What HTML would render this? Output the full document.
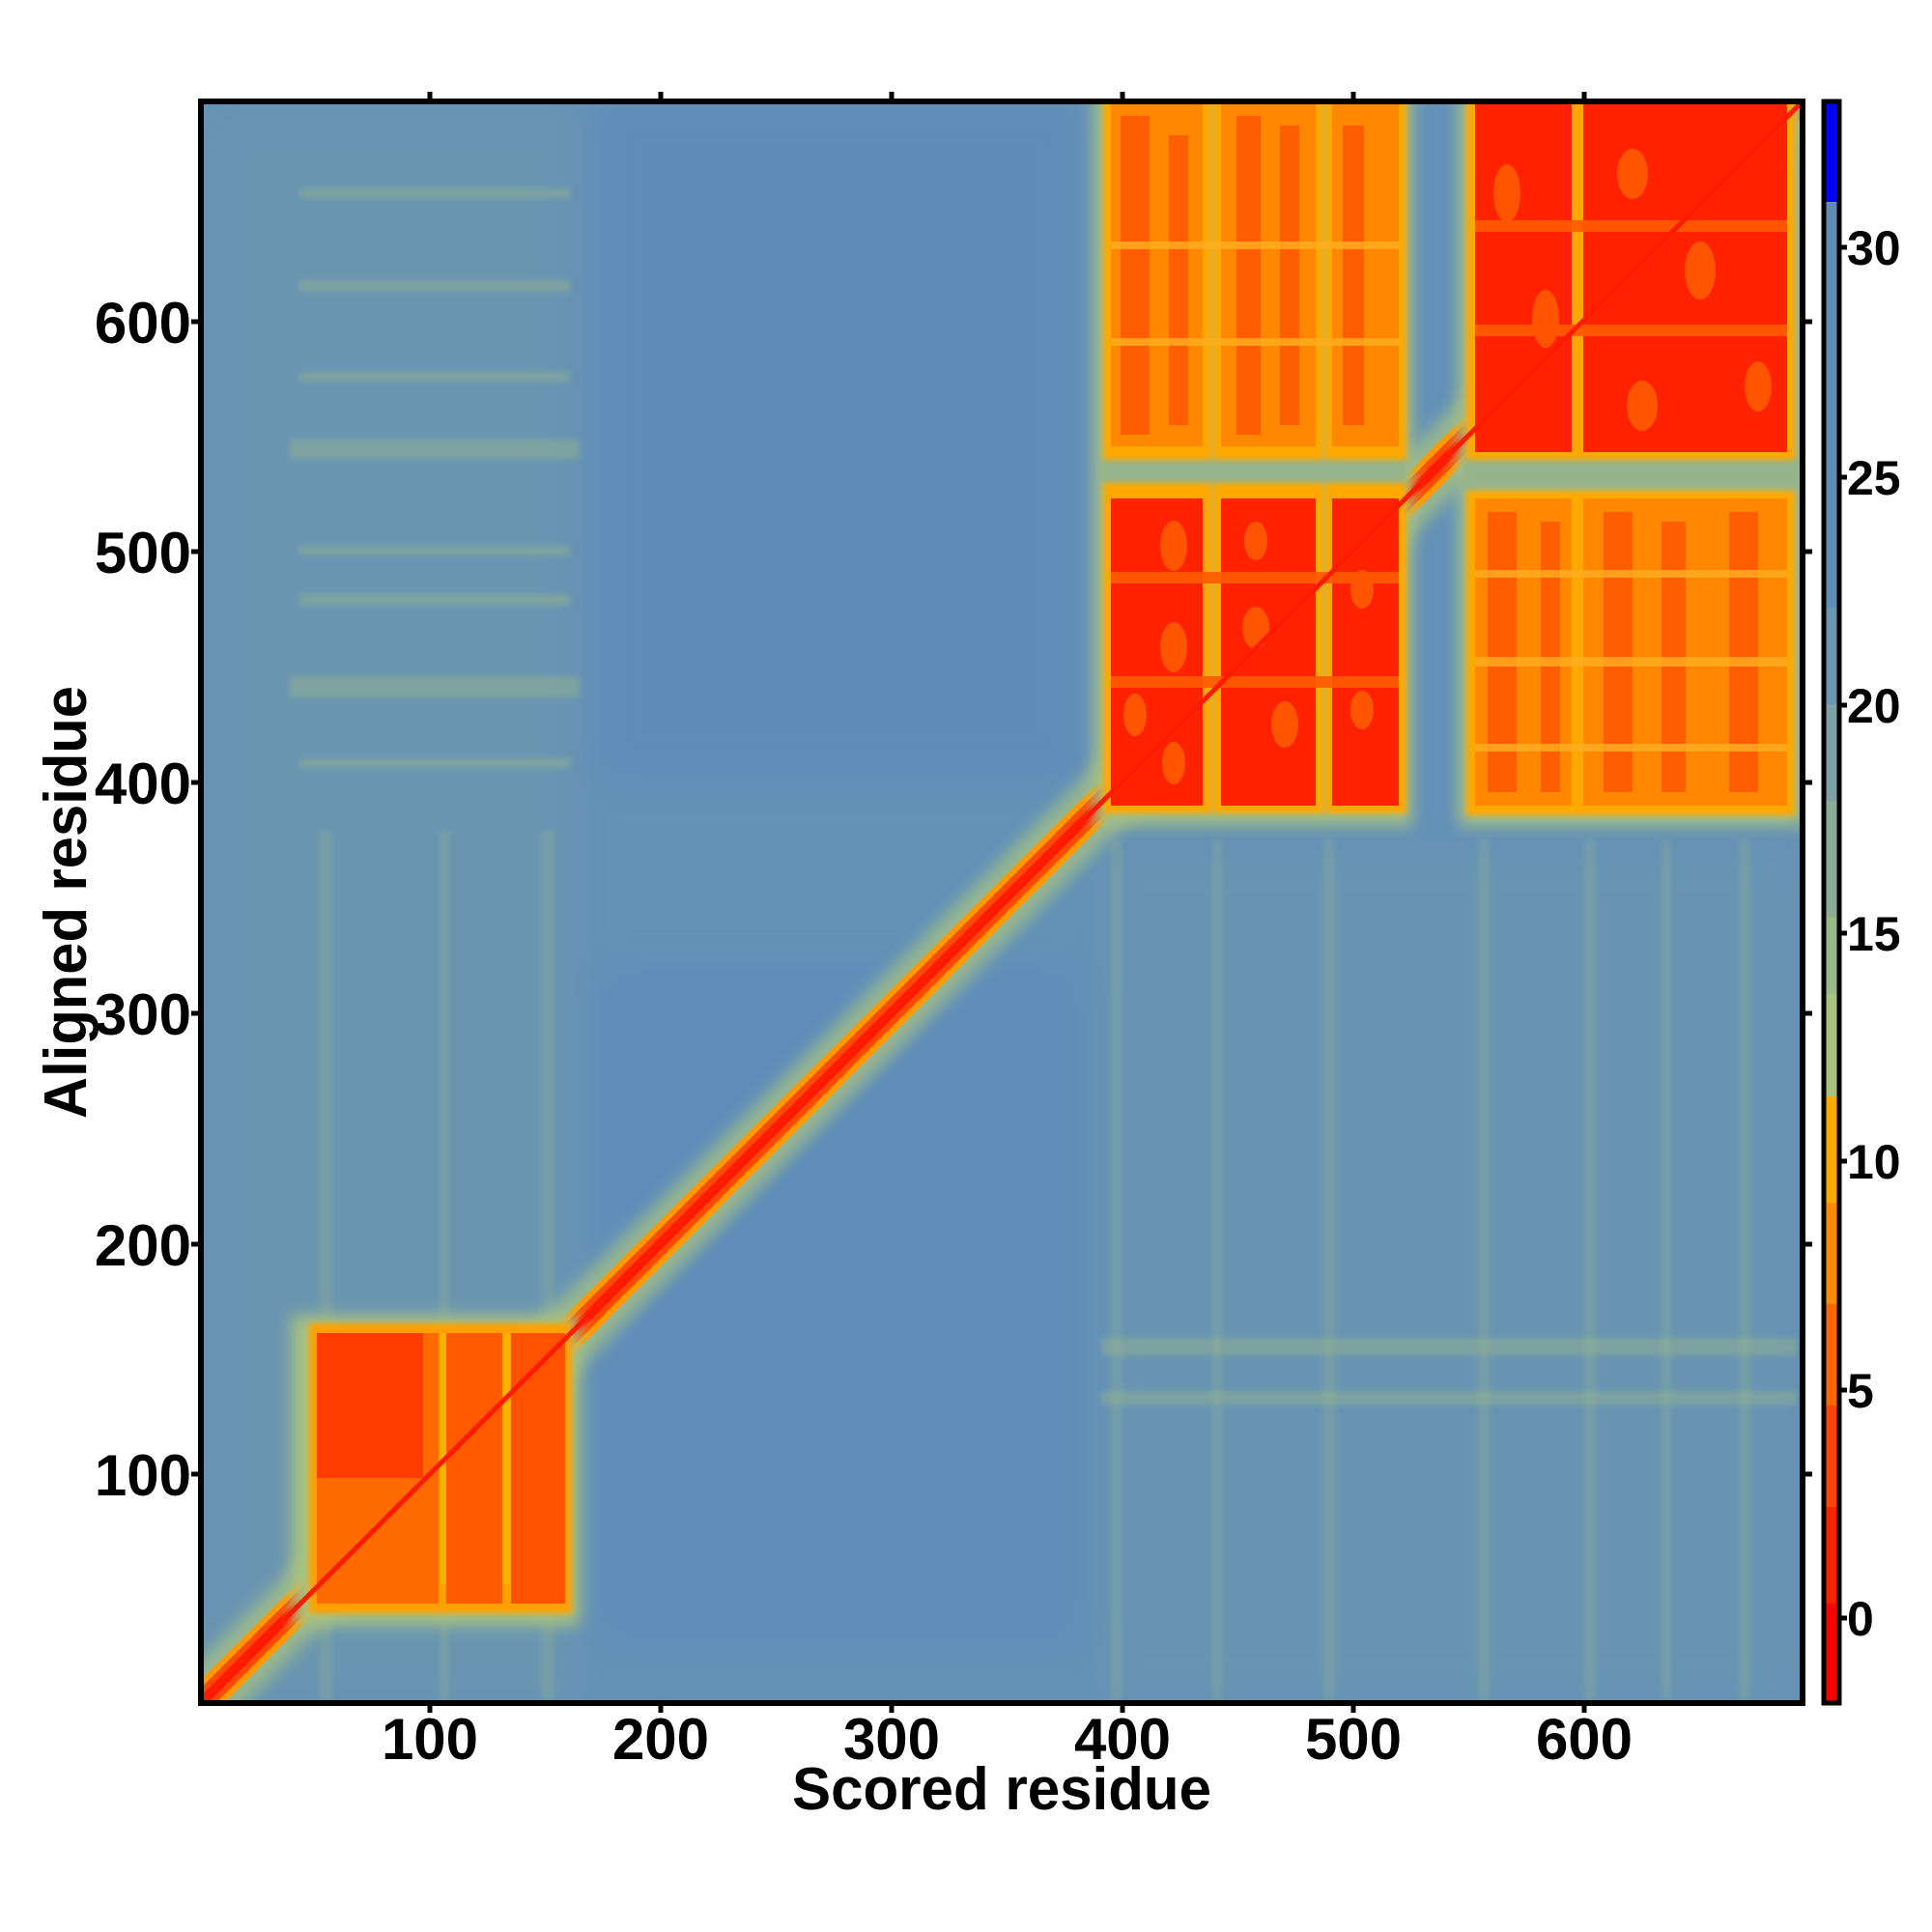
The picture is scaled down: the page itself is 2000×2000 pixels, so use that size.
<!DOCTYPE html>
<html><head><meta charset="utf-8"><style>html,body{margin:0;padding:0;background:#fff}svg{display:block}</style></head>
<body>
<svg width="2000" height="2000" viewBox="0 0 2000 2000" xmlns="http://www.w3.org/2000/svg" font-family="Liberation Sans, Arial, sans-serif" font-weight="bold">
<defs>
<clipPath id="pc"><rect x="208" y="105" width="1658" height="1658"/></clipPath>
<filter id="b8" filterUnits="userSpaceOnUse" x="0" y="0" width="2000" height="2000"><feGaussianBlur stdDeviation="8"/></filter>
<filter id="b4" filterUnits="userSpaceOnUse" x="0" y="0" width="2000" height="2000"><feGaussianBlur stdDeviation="3"/></filter>
<filter id="b16" filterUnits="userSpaceOnUse" x="0" y="0" width="2000" height="2000"><feGaussianBlur stdDeviation="18"/></filter>
</defs>
<g clip-path="url(#pc)">
<rect x="200" y="100" width="1680" height="1680" fill="#6391b7"/>
<rect x="208" y="105" width="390" height="1660" fill="#8aa79a" opacity="0.18" filter="url(#b16)"/>
<rect x="620" y="105" width="500" height="700" fill="#5a86c0" opacity="0.35" filter="url(#b16)"/>
<rect x="620" y="1000" width="500" height="700" fill="#5a86c0" opacity="0.3" filter="url(#b16)"/>
<rect x="1140" y="880" width="720" height="880" fill="#8aa79a" opacity="0.14" filter="url(#b16)"/>
<g fill="#9db98a" opacity="0.4" filter="url(#b4)">
<rect x="310" y="195" width="280" height="10"/>
<rect x="310" y="290" width="280" height="12"/>
<rect x="310" y="385" width="280" height="10"/>
<rect x="300" y="455" width="300" height="20"/>
<rect x="310" y="565" width="280" height="10"/>
<rect x="310" y="615" width="280" height="12"/>
<rect x="300" y="700" width="300" height="22"/>
<rect x="310" y="785" width="280" height="10"/>
<rect x="1140" y="1385" width="720" height="18"/>
<rect x="1140" y="1440" width="720" height="14"/>
</g>
<g fill="#9db98a" opacity="0.25" filter="url(#b4)">
<rect x="330" y="860" width="14" height="900"/>
<rect x="455" y="860" width="10" height="900"/>
<rect x="560" y="860" width="14" height="900"/>
<rect x="1150" y="870" width="12" height="890"/>
<rect x="1255" y="870" width="10" height="890"/>
<rect x="1370" y="870" width="12" height="890"/>
<rect x="1530" y="870" width="12" height="890"/>
<rect x="1640" y="870" width="12" height="890"/>
<rect x="1720" y="870" width="10" height="890"/>
<rect x="1800" y="870" width="12" height="890"/>
</g>
<!-- diagonal -->
<line x1="206" y1="1765" x2="1866" y2="105" stroke="#a3bf86" stroke-width="64" opacity="0.8" filter="url(#b8)"/>
<line x1="206" y1="1765" x2="1866" y2="105" stroke="#ff9a00" stroke-width="34"/>
<line x1="206" y1="1765" x2="1866" y2="105" stroke="#ff4a00" stroke-width="22"/>
<line x1="206" y1="1765" x2="1866" y2="105" stroke="#ff1a00" stroke-width="10"/>
<!-- domain A -->
<rect x="302" y="1362" width="298" height="320" fill="#a8c27f" filter="url(#b8)"/>
<rect x="320" y="1370" width="272" height="300" fill="#ffa000" filter="url(#b4)"/>
<rect x="328" y="1380" width="126" height="280" fill="#ff6a00"/>
<rect x="328" y="1380" width="110" height="150" fill="#ff3c00"/>
<rect x="462" y="1380" width="58" height="280" fill="#ff5a00"/>
<rect x="529" y="1380" width="56" height="280" fill="#ff5200"/>
<rect x="456" y="1380" width="6" height="260" fill="#ffb000"/>
<rect x="521" y="1380" width="7" height="260" fill="#ffb000"/>
<!-- big domains halo -->
<rect x="1132" y="95" width="330" height="760" fill="#a3bf86" filter="url(#b8)"/>
<rect x="1510" y="95" width="358" height="760" fill="#a3bf86" filter="url(#b8)"/>
<g fill="#96b48b" filter="url(#b4)">
<rect x="1140" y="474" width="316" height="34"/>
<rect x="1515" y="474" width="350" height="34"/>
</g>
<g fill="#ffa800" filter="url(#b4)">
<rect x="1142" y="500" width="112" height="342"/><rect x="1256" y="500" width="114" height="342"/><rect x="1372" y="500" width="84" height="342"/>
<rect x="1518" y="508" width="118" height="336"/><rect x="1632" y="508" width="226" height="336"/>
<rect x="1142" y="100" width="112" height="376"/><rect x="1256" y="100" width="114" height="376"/><rect x="1372" y="100" width="84" height="376"/>
<rect x="1518" y="100" width="118" height="376"/><rect x="1632" y="100" width="226" height="376"/>
</g>
<g fill="#ff2200">
<rect x="1150" y="516" width="95" height="318"/><rect x="1264" y="516" width="98" height="318"/><rect x="1379" y="516" width="69" height="318"/>
<rect x="1527" y="108" width="100" height="360"/><rect x="1639" y="108" width="211" height="360"/>
</g>
<g fill="#ff5a00" opacity="0.9">
<ellipse cx="1215" cy="565" rx="14" ry="26"/><ellipse cx="1215" cy="670" rx="14" ry="26"/><ellipse cx="1175" cy="740" rx="12" ry="22"/><ellipse cx="1215" cy="790" rx="12" ry="22"/>
<ellipse cx="1300" cy="560" rx="12" ry="20"/><ellipse cx="1300" cy="650" rx="14" ry="22"/><ellipse cx="1330" cy="750" rx="14" ry="24"/>
<ellipse cx="1410" cy="610" rx="12" ry="20"/><ellipse cx="1410" cy="735" rx="12" ry="20"/>
<rect x="1150" y="592" width="298" height="12"/><rect x="1150" y="700" width="298" height="12"/>
<ellipse cx="1560" cy="200" rx="14" ry="30"/><ellipse cx="1600" cy="330" rx="14" ry="30"/><ellipse cx="1690" cy="180" rx="16" ry="26"/><ellipse cx="1760" cy="280" rx="16" ry="30"/><ellipse cx="1820" cy="400" rx="14" ry="26"/><ellipse cx="1700" cy="420" rx="16" ry="26"/>
<rect x="1527" y="228" width="323" height="12"/><rect x="1527" y="336" width="323" height="12"/>
</g>
<g fill="#ff8800">
<rect x="1150" y="108" width="95" height="354"/><rect x="1264" y="108" width="98" height="354"/><rect x="1379" y="108" width="69" height="354"/>
<rect x="1527" y="516" width="100" height="318"/><rect x="1639" y="516" width="211" height="318"/>
</g>
<g fill="#ff5000" opacity="0.75">
<rect x="1160" y="120" width="30" height="330"/><rect x="1210" y="140" width="20" height="300"/>
<rect x="1280" y="120" width="25" height="330"/><rect x="1325" y="130" width="20" height="310"/>
<rect x="1390" y="130" width="22" height="310"/>
<rect x="1540" y="530" width="30" height="290"/><rect x="1595" y="540" width="20" height="280"/>
<rect x="1660" y="530" width="30" height="290"/><rect x="1720" y="540" width="25" height="280"/><rect x="1790" y="530" width="30" height="290"/>
</g>
<g fill="#ffae20" opacity="0.8">
<rect x="1527" y="590" width="323" height="8"/><rect x="1527" y="680" width="323" height="10"/><rect x="1527" y="770" width="323" height="8"/>
<rect x="1150" y="250" width="298" height="8"/><rect x="1150" y="350" width="298" height="8"/>
</g>
<line x1="206" y1="1765" x2="1866" y2="105" stroke="#ff1a00" stroke-width="5"/>
</g>
<rect x="208" y="105" width="1658" height="1658" fill="none" stroke="#000" stroke-width="6"/>
<g stroke="#000" stroke-width="5">
<line x1="445" y1="1763" x2="445" y2="1773"/><line x1="684" y1="1763" x2="684" y2="1773"/><line x1="923" y1="1763" x2="923" y2="1773"/><line x1="1162" y1="1763" x2="1162" y2="1773"/><line x1="1401" y1="1763" x2="1401" y2="1773"/><line x1="1640" y1="1763" x2="1640" y2="1773"/>
<line x1="445" y1="105" x2="445" y2="95"/><line x1="684" y1="105" x2="684" y2="95"/><line x1="923" y1="105" x2="923" y2="95"/><line x1="1162" y1="105" x2="1162" y2="95"/><line x1="1401" y1="105" x2="1401" y2="95"/><line x1="1640" y1="105" x2="1640" y2="95"/>
<line x1="208" y1="1526" x2="198" y2="1526"/><line x1="208" y1="1288" x2="198" y2="1288"/><line x1="208" y1="1049" x2="198" y2="1049"/><line x1="208" y1="810" x2="198" y2="810"/><line x1="208" y1="571" x2="198" y2="571"/><line x1="208" y1="333" x2="198" y2="333"/>
<line x1="1866" y1="1526" x2="1876" y2="1526"/><line x1="1866" y1="1288" x2="1876" y2="1288"/><line x1="1866" y1="1049" x2="1876" y2="1049"/><line x1="1866" y1="810" x2="1876" y2="810"/><line x1="1866" y1="571" x2="1876" y2="571"/><line x1="1866" y1="333" x2="1876" y2="333"/>
</g>
<g font-size="60" text-anchor="middle" fill="#000">
<text x="445" y="1821">100</text><text x="684" y="1821">200</text><text x="923" y="1821">300</text><text x="1162" y="1821">400</text><text x="1401" y="1821">500</text><text x="1640" y="1821">600</text>
</g>
<g font-size="60" text-anchor="end" fill="#000">
<text x="198" y="1548">100</text><text x="198" y="1310">200</text><text x="198" y="1071">300</text><text x="198" y="832">400</text><text x="198" y="593">500</text><text x="198" y="355">600</text>
</g>
<text x="1037" y="1873" font-size="62" text-anchor="middle" textLength="434" lengthAdjust="spacingAndGlyphs">Scored residue</text>
<text transform="translate(89,934) rotate(-90)" font-size="62" text-anchor="middle" textLength="448" lengthAdjust="spacingAndGlyphs">Aligned residue</text>
<g>
<rect x="1888" y="105" width="16" height="104" fill="#0000ff"/>
<rect x="1888" y="209" width="16" height="420" fill="#5f8db8"/>
<rect x="1888" y="629" width="16" height="100" fill="#6a96b0"/>
<rect x="1888" y="729" width="16" height="100" fill="#7ca0a4"/>
<rect x="1888" y="829" width="16" height="120" fill="#8cac95"/>
<rect x="1888" y="949" width="16" height="80" fill="#9bb889"/>
<rect x="1888" y="1029" width="16" height="106" fill="#a8c27f"/>
<rect x="1888" y="1135" width="16" height="110" fill="#ffaa00"/>
<rect x="1888" y="1245" width="16" height="105" fill="#ff8c00"/>
<rect x="1888" y="1350" width="16" height="105" fill="#ff6600"/>
<rect x="1888" y="1455" width="16" height="105" fill="#ff4400"/>
<rect x="1888" y="1560" width="16" height="100" fill="#ff2200"/>
<rect x="1888" y="1660" width="16" height="103" fill="#ff0000"/>
<rect x="1888" y="105" width="16" height="1658" fill="none" stroke="#000" stroke-width="5"/>
<g stroke="#000" stroke-width="5">
<line x1="1904" y1="256" x2="1912" y2="256"/><line x1="1904" y1="494" x2="1912" y2="494"/><line x1="1904" y1="730" x2="1912" y2="730"/><line x1="1904" y1="966" x2="1912" y2="966"/><line x1="1904" y1="1202" x2="1912" y2="1202"/><line x1="1904" y1="1439" x2="1912" y2="1439"/><line x1="1904" y1="1675" x2="1912" y2="1675"/>
</g>
<g font-size="50" fill="#000">
<text x="1912" y="274">30</text><text x="1912" y="512">25</text><text x="1912" y="748">20</text><text x="1912" y="984">15</text><text x="1912" y="1220">10</text><text x="1912" y="1457">5</text><text x="1912" y="1693">0</text>
</g>
</g>
</svg>
</body></html>
